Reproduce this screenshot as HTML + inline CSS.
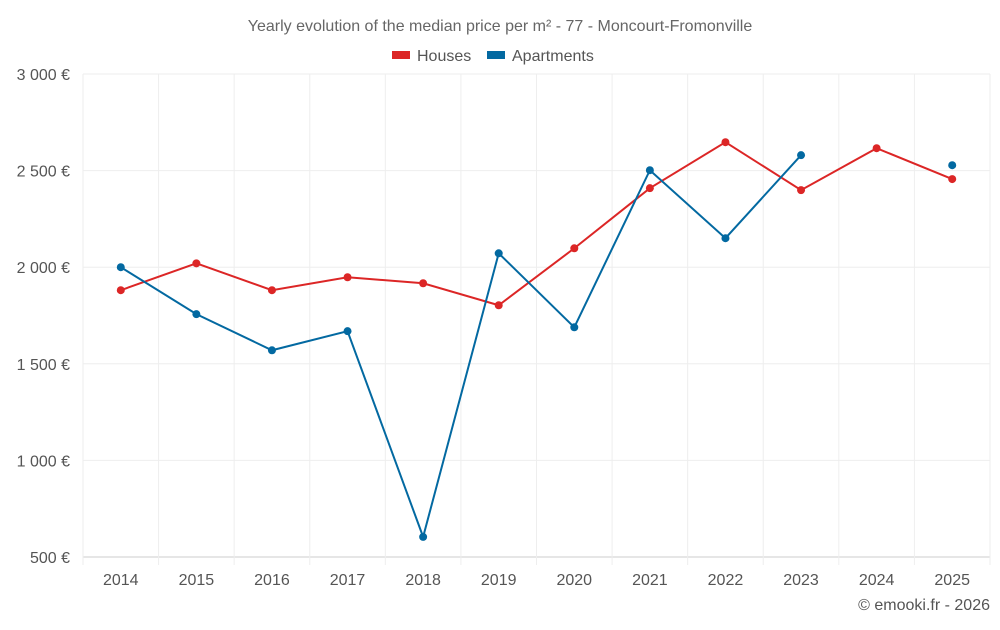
<!DOCTYPE html>
<html><head><meta charset="utf-8"><style>
body{margin:0;background:#fff;font-family:"Liberation Sans",Roboto,sans-serif;}
svg text{font-family:"Liberation Sans",sans-serif;}
</style></head><body>
<svg id="chart" width="1000" height="625" viewBox="0 0 1000 625">
<text x="500" y="31" text-anchor="middle" font-size="16" fill="#666">Yearly evolution of the median price per m² - 77 - Moncourt-Fromonville</text>
<g>
<g><rect x="392" y="51" width="18" height="8" fill="#dc2626"/><text x="417" y="61" font-size="16" fill="#555">Houses</text></g>
<g><rect x="487" y="51" width="18" height="8" fill="#0369a1"/><text x="512" y="61" font-size="16" fill="#555">Apartments</text></g>
</g>
<g id="grid"></g>
<g id="axes"></g>
<g id="series"></g>
<text x="990" y="610" text-anchor="end" font-size="16" fill="#555">© emooki.fr - 2026</text>
</svg>
<script>
const years=[2014,2015,2016,2017,2018,2019,2020,2021,2022,2023,2024,2025];
const houses=[1881,2020,1881,1948,1917,1803,2098,2409,2647,2399,2616,2456];
const apartments=[2000,1757,1570,1669,604,2072,1689,2502,2150,2580,null,2528];
const yTicks=[500,1000,1500,2000,2500,3000];
const yTickLabels=["500 €","1 000 €","1 500 €","2 000 €","2 500 €","3 000 €"];
const L=83,R=990,T=74,B=557,ymin=500,ymax=3000;
const bw=(R-L)/years.length;
const xs=i=>L+bw*(i+0.5);
const ys=v=>B-(v-ymin)/(ymax-ymin)*(B-T);
const NS="http://www.w3.org/2000/svg";
function mk(tag,attrs,parent){const e=document.createElementNS(NS,tag);for(const k in attrs)e.setAttribute(k,attrs[k]);parent.appendChild(e);return e;}
const grid=document.getElementById('grid'),axes=document.getElementById('axes'),series=document.getElementById('series');
yTicks.forEach((v,i)=>{
 const l=mk('line',{x1:L,x2:R,y1:ys(v),y2:ys(v),stroke:i===0?'#ccc':'#eee','stroke-width':1},grid);
 
 
 const t=mk('text',{x:70,y:ys(v)+6,'text-anchor':'end','font-size':16,fill:'#555'},axes);
 t.textContent=yTickLabels[i];
 
 
});
for(let i=0;i<=years.length;i++){
 const x=L+bw*i;
 const g=mk('line',{x1:x,x2:x,y1:T,y2:B+8,stroke:'#eee','stroke-width':1},grid);
 
 
}
years.forEach((y,i)=>{
 const t=mk('text',{x:xs(i),y:585,'text-anchor':'middle','font-size':16,fill:'#555'},axes);
 t.textContent=y;
 
 
});
function draw(data,color,name){
 let segs=[],cur=[];
 data.forEach((v,i)=>{if(v==null){if(cur.length)segs.push(cur);cur=[];}else cur.push([xs(i),ys(v)]);});
 if(cur.length)segs.push(cur);
 segs.forEach(s=>{if(s.length>1){
  const p=mk('polyline',{points:s.map(p=>p.join(',')).join(' '),fill:'none',stroke:color,'stroke-width':2},series);
  
  
 }});
 data.forEach((v,i)=>{if(v==null)return;
  const c=mk('circle',{cx:xs(i),cy:ys(v),r:4,fill:color},series);
  
  
 });
}
draw(houses,'#dc2626','houses');
draw(apartments,'#0369a1','apartments');
</script>
</body></html>
